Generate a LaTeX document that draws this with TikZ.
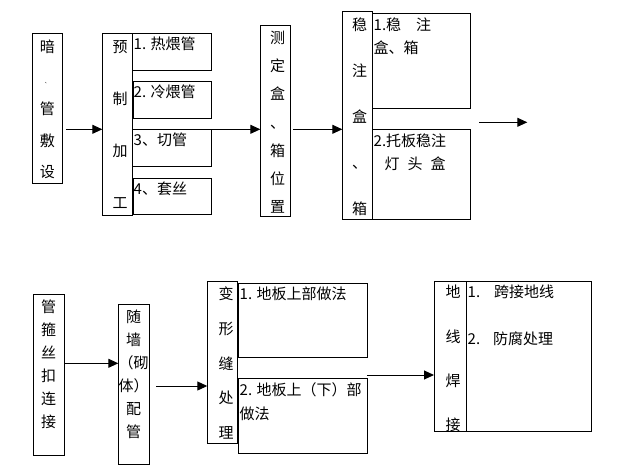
\documentclass[tikz,border=0pt]{standalone}
\usepackage{fontspec}
\setmainfont{Noto Sans CJK SC}
\usetikzlibrary{arrows.meta}

\tikzset{
  kuang/.style={draw, line width=1pt, anchor=north west, inner sep=0pt, outer sep=0pt},
  shu/.style={align=center, inner sep=0pt, font=\fontsize{15}{#1}\selectfont},
  heng/.style={align=left, anchor=west, inner sep=0pt, font=\fontsize{15}{23}\selectfont},
  jian/.style={line width=1pt, -{Triangle[length=10pt,width=9pt]}}
}

\begin{document}
\begin{tikzpicture}[x=1pt,y=-1pt]
  \useasboundingbox (0,0) rectangle (639,471);

  % heights of the arrows
  \coordinate (zhou1) at (0,129.3);
  \coordinate (zhou2) at (0,363.3);
  \coordinate (zhou3) at (0,386);
  \coordinate (zhou4) at (0,375);
  \coordinate (chu1) at (479.3,122.3);
  \coordinate (chu2) at (527.3,122.3);

  % first row
  \node[kuang, minimum width=30pt, minimum height=150pt] (anguan) at (32.3,33.3) {};
  \node[kuang, minimum width=30pt, minimum height=181.7pt] (yuzhi) at (102.3,33.3) {};
  \node[kuang, minimum width=78.7pt, minimum height=37pt] (reweibox) at (132.3,33.3) {};
  \node[kuang, minimum width=77.7pt, minimum height=37.3pt] (lengweibox) at (133.3,81) {};
  \node[kuang, minimum width=78.7pt, minimum height=36.7pt] (qiebox) at (132.3,129.3) {};
  \node[kuang, minimum width=77.7pt, minimum height=36pt] (taosibox) at (133.3,178.3) {};
  \node[kuang, minimum width=30pt, minimum height=191pt] (ceding) at (260.3,25) {};
  \node[kuang, minimum width=30pt, minimum height=207.3pt] (wenzhu) at (342.3,11.7) {};
  \node[kuang, minimum width=98pt, minimum height=95pt] (wen1box) at (372.3,13.3) {};
  \node[kuang, minimum width=98pt, minimum height=89.7pt] (wen2box) at (372.3,129.3) {};

  \node[shu=31.25] (anguanzi) at (47.3,109.2) {暗\\{\fontsize{5}{5}\selectfont 、}\\管\\敷\\设};
  \node[shu=52] (yuzhizi) at (120,124.7) {预\\制\\加\\工};
  \node[shu=28.2] (cedingzi) at (277.5,122.2) {测\\定\\盒\\、\\箱\\位\\置};
  \node[shu=46] (wenzhuzi) at (359.5,117.2) {稳\\注\\盒\\、\\箱};

  \node[heng] (rewei) at (133.5,44.3) {1. 热煨管};
  \node[heng] (lengwei) at (133.5,91.7) {2. 冷煨管};
  \node[heng] (qie) at (133.5,139.3) {3、切管};
  \node[heng] (taosi) at (133.5,188.3) {4、套丝};
  \node[heng, font=\fontsize{15}{22.7}\selectfont] (wen1) at (373.5,36.3) {1.稳\hspace{15pt}注\\盒、箱};
  \node[heng, font=\fontsize{15}{22.7}\selectfont] (wen2) at (373.5,152) {2.托板稳注\\\hspace*{11pt}灯\hspace{8pt}头\hspace{8pt}盒};

  \draw[jian] ([xshift=4pt]anguan.east |- zhou1) -- (yuzhi.west |- zhou1);
  \draw[jian] (qiebox.north west) -- (ceding.west |- zhou1);
  \draw[jian] ([xshift=3pt]ceding.east |- zhou1) -- (wenzhu.west |- zhou1);
  \draw[jian] (chu1) -- (chu2);

  % second row
  \node[kuang, minimum width=31pt, minimum height=160.7pt] (guangu) at (33.3,294.3) {};
  \node[kuang, minimum width=31pt, minimum height=160pt] (suiqiang) at (118.3,304) {};
  \node[kuang, minimum width=30.4pt, minimum height=162.3pt] (bianxing) at (207.3,281) {};
  \node[kuang, minimum width=128.7pt, minimum height=74pt] (bx1box) at (238.3,283.3) {};
  \node[kuang, minimum width=128.7pt, minimum height=75pt] (bx2box) at (238.3,378.3) {};
  \node[kuang, minimum width=32.7pt, minimum height=150pt] (dixian) at (434,281.7) {};
  \node[kuang, minimum width=125pt, minimum height=150pt] (dixianbox) at (466.7,281.7) {};

  \node[shu=23.1] (guanguzi) at (48.5,364.5) {管\\箍\\丝\\扣\\连\\接};
  \node[shu=23] (suiqiangzi) at (133.5,374.2) {随\\墙\\（砌\\体）\\配\\管};
  \node[shu=34.85] (bianxingzi) at (226,363) {变\\形\\缝\\处\\理};
  \node[shu=44.3] (dixianzi) at (453,358.5) {地\\线\\焊\\接};

  \node[heng] (bx1) at (239.5,293.3) {1. 地板上部做法};
  \node[heng, font=\fontsize{15}{23.3}\selectfont] (bx2) at (239.5,401.7) {2. 地板上（下）部\\做法};
  \node[heng] (dx1) at (467.5,292.3) {1.\hspace{14pt}跨接地线};
  \node[heng] (dx2) at (467.5,339) {2.\hspace{13pt}防腐处理};

  \draw[jian] ([xshift=1pt]guangu.east |- zhou2) -- (suiqiang.west |- zhou2);
  \draw[jian] ([xshift=7pt]suiqiang.east |- zhou3) -- (bianxing.west |- zhou3);
  \draw[jian] (bx2box.east |- zhou4) -- (dixian.west |- zhou4);
\end{tikzpicture}
\end{document}
